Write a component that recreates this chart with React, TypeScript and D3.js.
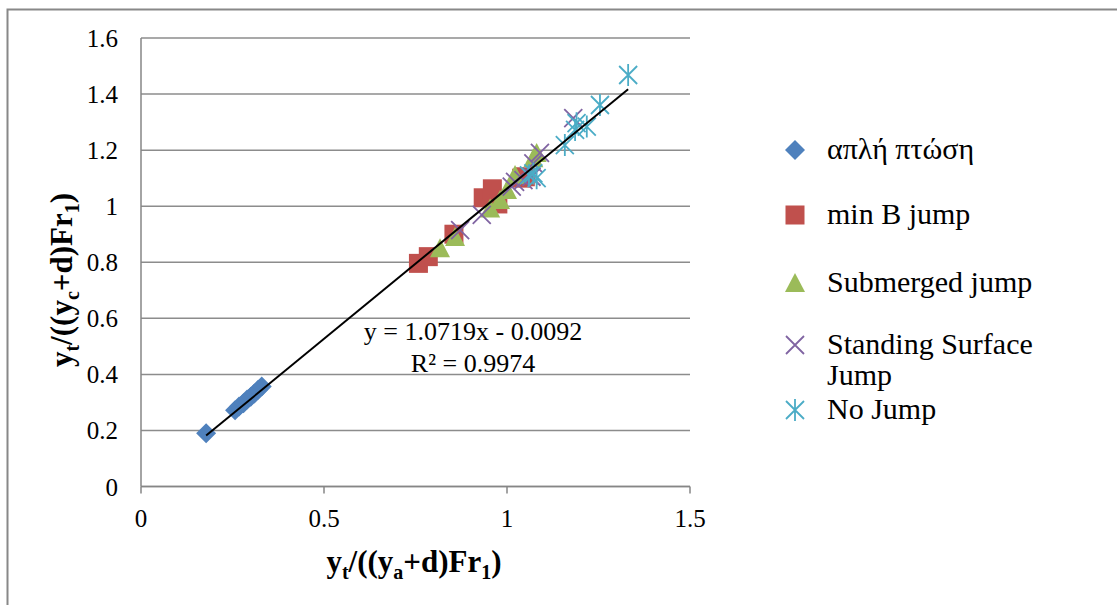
import React from "react";
import * as d3 from "d3";

const W = 1117;
const H = 605;

// series data [x, y]
const simpleDrop: [number, number][] = [
  [0.178, 0.19], [0.257, 0.272], [0.268, 0.285], [0.28, 0.297], [0.29, 0.31],
  [0.3, 0.32], [0.31, 0.332], [0.32, 0.345], [0.33, 0.357],
];
const minBJump: [number, number][] = [
  [0.758, 0.796], [0.785, 0.82], [0.855, 0.9], [0.935, 1.03], [0.96, 1.062],
  [0.975, 1.008], [1.04, 1.1], [1.05, 1.105],
];
const submergedJump: [number, number][] = [
  [0.817, 0.85], [0.858, 0.89], [0.954, 0.992], [0.981, 1.022], [1.0, 1.058],
  [1.022, 1.111], [1.072, 1.171], [1.081, 1.19],
];
const standingSurfaceJump: [number, number][] = [
  [0.872, 0.915], [0.931, 0.969], [1.013, 1.07], [1.022, 1.087], [1.045, 1.093],
  [1.067, 1.105], [1.072, 1.153], [1.09, 1.19], [1.181, 1.314],
];
const noJump: [number, number][] = [
  [1.06, 1.11], [1.072, 1.117], [1.081, 1.1], [1.158, 1.218], [1.186, 1.272],
  [1.19, 1.296], [1.218, 1.284], [1.254, 1.361], [1.331, 1.468],
];

const xTicks = [0, 0.5, 1, 1.5];
const yTicks = [0, 0.2, 0.4, 0.6, 0.8, 1, 1.2, 1.4, 1.6];
const yTickLabels = ["0", "0.2", "0.4", "0.6", "0.8", "1", "1.2", "1.4", "1.6"];
const xTickLabels = ["0", "0.5", "1", "1.5"];

const slope = 1.0719;
const intercept = -0.0092;
const trendRange = [0.178, 1.331];
const equationText = "y = 1.0719x - 0.0092";
const r2Value = "0.9974";

const seriesNames = ["απλή πτώση", "min B jump", "Submerged jump", "Standing Surface", "No Jump"];
const seriesColors = ["#4F81BD", "#C0504D", "#9BBB59", "#8064A2", "#4BACC6"];

const FONT = "'Liberation Serif', 'Times New Roman', serif";

function Marker({ kind, x, y, color }: { kind: string; x: number; y: number; color: string }) {
  const r = 10;
  if (kind === "diamond") {
    return <path d={`M${x},${y - r}L${x + r},${y}L${x},${y + r}L${x - r},${y}Z`} fill={color} />;
  }
  if (kind === "square") {
    return <rect x={x - 9.5} y={y - 9.5} width={19} height={19} fill={color} />;
  }
  if (kind === "triangle") {
    return <path d={`M${x},${y - 10}L${x + 10},${y + 9}L${x - 10},${y + 9}Z`} fill={color} />;
  }
  if (kind === "x") {
    return (
      <path d={`M${x - 9},${y - 9}L${x + 9},${y + 9}M${x - 9},${y + 9}L${x + 9},${y - 9}`}
        stroke={color} strokeWidth={1.8} fill="none" />
    );
  }
  return (
    <path d={`M${x - 9},${y - 9}L${x + 9},${y + 9}M${x - 9},${y + 9}L${x + 9},${y - 9}M${x},${y - 11}L${x},${y + 11}`}
      stroke={color} strokeWidth={1.8} fill="none" />
  );
}

export default function App() {
  const x = d3.scaleLinear().domain([0, 1.5]).range([141, 690]);
  const y = d3.scaleLinear().domain([0, 1.6]).range([486.5, 38]);
  const kinds = ["diamond", "square", "triangle", "x", "star"];
  const all = [simpleDrop, minBJump, submergedJump, standingSurfaceJump, noJump];

  const line = d3.line<number>().x((v) => x(v)).y((v) => y(slope * v + intercept));

  const legendY = [150, 215, 283, 345, 410];

  return (
    <svg width={W} height={H} style={{ position: "absolute", left: 0, top: 0, background: "#fff" }}
      fontFamily={FONT}>
      <rect x={0} y={0} width={W} height={H} fill="#fff" />
      <path d={`M7.5,${H + 5}L7.5,9.5L${W + 5},9.5`} stroke="#888" strokeWidth={2} fill="none" />
      {/* gridlines */}
      {yTicks.map((t) => (
        <line key={t} x1={x(0)} x2={x(1.5)} y1={y(t)} y2={y(t)} stroke="#8c8c8c" strokeWidth={1.5} />
      ))}
      {/* axes */}
      <line x1={x(0)} x2={x(0)} y1={y(0)} y2={y(1.6)} stroke="#868686" strokeWidth={1.5} />
      <line x1={x(0)} x2={x(1.5)} y1={y(0)} y2={y(0)} stroke="#868686" strokeWidth={1.5} />
      {xTicks.map((t) => (
        <line key={t} x1={x(t)} x2={x(t)} y1={y(0)} y2={y(0) + 7} stroke="#868686" strokeWidth={1.5} />
      ))}
      {yTicks.map((t, i) => (
        <text key={t} x={118} y={y(t) + 9} textAnchor="end" fontSize={25} fill="#000">{yTickLabels[i]}</text>
      ))}
      {xTicks.map((t, i) => (
        <text key={t} x={x(t)} y={527} textAnchor="middle" fontSize={25} fill="#000">{xTickLabels[i]}</text>
      ))}
      {/* axis titles */}
      <text x={414} y={572} textAnchor="middle" fontSize={31} fontWeight="bold" fill="#000">
        y<tspan fontSize={20} dy={7}>t</tspan>
        <tspan dy={-7}>/((y</tspan><tspan fontSize={20} dy={7}>a</tspan>
        <tspan dy={-7}>+d)Fr</tspan><tspan fontSize={20} dy={7}>1</tspan>
        <tspan dy={-7}>)</tspan>
      </text>
      <text transform={`translate(72,280) rotate(-90)`} textAnchor="middle" fontSize={31} fontWeight="bold" fill="#000">
        y<tspan fontSize={20} dy={7}>t</tspan>
        <tspan dy={-7}>/((y</tspan><tspan fontSize={20} dy={7}>c</tspan>
        <tspan dy={-7}>+d)Fr</tspan><tspan fontSize={20} dy={7}>1</tspan>
        <tspan dy={-7}>)</tspan>
      </text>
      {/* markers */}
      {all.map((s, si) =>
        s.map((p, pi) => (
          <Marker key={`${si}-${pi}`} kind={kinds[si]} x={x(p[0])} y={y(p[1])} color={seriesColors[si]} />
        ))
      )}
      {/* trendline */}
      <path d={line(trendRange) || ""} stroke="#000" strokeWidth={2} fill="none" />
      <text x={473} y={340} textAnchor="middle" fontSize={26} fill="#000">{equationText}</text>
      <text x={473} y={372} textAnchor="middle" fontSize={26} fill="#000">R² = {r2Value}</text>
      {/* legend */}
      {seriesNames.map((n, i) => (
        <g key={n}>
          <Marker kind={kinds[i]} x={795} y={legendY[i]} color={seriesColors[i]} />
          <text x={827} y={legendY[i] + 9} fontSize={30} fill="#000">{n}</text>
        </g>
      ))}
      <text x={827} y={385} fontSize={30} fill="#000">Jump</text>
    </svg>
  );
}
